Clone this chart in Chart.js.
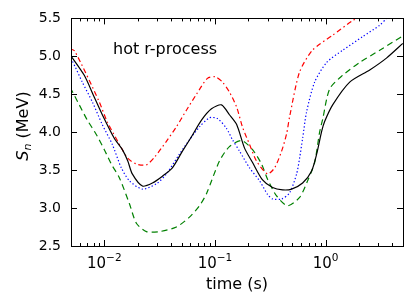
<!DOCTYPE html>
<html>
<head>
<meta charset="utf-8">
<script src="https://cdn.jsdelivr.net/npm/chart.js@4"></script>
<style>
  body { margin: 0; background: #fff; }
  canvas { display: block; }
</style>
</head>
<body>
<canvas id="chart" width="415" height="296"></canvas>
<script>
// time (s) and S_n (MeV)
const blackT = [0.00492, 0.00659, 0.00812, 0.00959, 0.0123, 0.01456, 0.0163, 0.0179, 0.0221, 0.0272, 0.0335, 0.0412, 0.0508, 0.0613, 0.0755, 0.093, 0.1145, 0.135, 0.157, 0.185, 0.2185, 0.269, 0.3315, 0.4083, 0.4925, 0.6194, 0.747, 0.829, 0.92, 0.979, 1.157, 1.649, 2.502, 3.565, 4.98]
const blackS = [5.02, 4.75, 4.46, 4.23, 3.92, 3.77, 3.62, 3.45, 3.29, 3.33, 3.42, 3.53, 3.75, 3.94, 4.16, 4.31, 4.36, 4.23, 4.10, 3.79, 3.60, 3.37, 3.27, 3.24, 3.25, 3.33, 3.49, 3.71, 4.01, 4.14, 4.36, 4.66, 4.82, 4.98, 5.17]

const redT = [0.0049, 0.0054, 0.009, 0.0106, 0.0137, 0.0162, 0.0195, 0.024, 0.0284, 0.0364, 0.0448, 0.0552, 0.068, 0.0855, 0.101, 0.117, 0.135, 0.157, 0.177, 0.205, 0.2375, 0.2987, 0.3456, 0.40, 0.444, 0.472, 0.58, 0.76, 1.16, 1.75, 2.1]
const redS = [5.10, 5.07, 4.40, 4.14, 3.84, 3.66, 3.58, 3.57, 3.67, 3.88, 4.07, 4.29, 4.50, 4.71, 4.73, 4.66, 4.53, 4.33, 4.07, 3.84, 3.62, 3.45, 3.53, 3.75, 3.98, 4.20, 4.79, 5.08, 5.28, 5.47, 5.53]

const blueT = [0.0049, 0.00513, 0.00632, 0.00779, 0.00959, 0.0118, 0.01425, 0.01684, 0.0221, 0.0296, 0.0364, 0.0477, 0.0588, 0.0724, 0.0892, 0.1054, 0.127, 0.144, 0.1667, 0.2052, 0.2527, 0.2987, 0.3315, 0.40, 0.4724, 0.5466, 0.5818, 0.6194, 0.6732, 0.795, 1.021, 1.425, 2.161, 3.082, 3.565, 4.98]
const blueS = [4.96, 4.94, 4.66, 4.40, 4.10, 3.84, 3.53, 3.36, 3.25, 3.32, 3.45, 3.71, 3.90, 4.07, 4.19, 4.18, 4.05, 3.90, 3.75, 3.53, 3.36, 3.18, 3.12, 3.12, 3.20, 3.45, 3.66, 3.92, 4.27, 4.66, 4.92, 5.08, 5.26, 5.41, 5.50, 5.65]

const greenT = [0.00492, 0.00594, 0.00702, 0.00846, 0.01, 0.01157, 0.01367, 0.01684, 0.01948, 0.024, 0.0315, 0.0448, 0.0588, 0.0724, 0.0838, 0.1098, 0.135, 0.1737, 0.2185, 0.2636, 0.2987, 0.3603, 0.453, 0.5818, 0.6873, 0.795, 0.882, 0.94, 1.087, 1.425, 2.031, 3.082, 4.98]
const greenS = [4.59, 4.36, 4.16, 3.97, 3.77, 3.58, 3.40, 3.06, 2.80, 2.69, 2.69, 2.75, 2.88, 3.03, 3.19, 3.62, 3.81, 3.89, 3.77, 3.58, 3.38, 3.16, 3.03, 3.14, 3.36, 3.60, 4.00, 4.17, 4.57, 4.75, 4.92, 5.08, 5.27]

const xMajor = [0.01, 0.1, 1]
const xExp   = ['−2', '−1', '0']
const yTicks = [2.5, 3.0, 3.5, 4.0, 4.5, 5.0, 5.5]
const noteText = 'hot r-process'

const FONT = '"DejaVu Sans", sans-serif'

function pts(ts, vs) {
    return ts.map((t, i) => ({ x: t, y: vs[i] }))
}

function line(ts, vs, color, dash) {
    return {
        data: pts(ts, vs),
        borderColor: color,
        borderWidth: 1.2,
        borderDash: dash,
        pointRadius: 0,
        tension: 0.25,
        fill: false
    }
}

// inward ticks, frame, x tick labels with exponents, y label and the note
const framePlugin = {
    id: 'frame',
    afterDraw(chart) {
        const ctx = chart.ctx
        const a = chart.chartArea
        const xs = chart.scales.x
        const ys = chart.scales.y
        ctx.save()
        ctx.strokeStyle = '#000'
        ctx.lineWidth = 1
        ctx.strokeRect(Math.round(a.left) + 0.5, Math.round(a.top) + 0.5, Math.round(a.right - a.left), Math.round(a.bottom - a.top))

        const tick = (x1, y1, x2, y2) => {
            ctx.beginPath()
            ctx.moveTo(x1, y1)
            ctx.lineTo(x2, y2)
            ctx.stroke()
        }
        for (const d of [0.001, 0.01, 0.1, 1]) {
            for (let m = 1; m <= 9; m++) {
                const v = m * d
                if (v < xs.min || v > xs.max) continue
                const px = Math.round(xs.getPixelForValue(v)) + 0.5
                const len = m === 1 ? 6 : 3
                tick(px, a.bottom, px, a.bottom - len)
                tick(px, a.top, px, a.top + len)
            }
        }
        yTicks.forEach(v => {
            const py = Math.round(ys.getPixelForValue(v)) + 0.5
            tick(a.left, py, a.left + 6, py)
            tick(a.right, py, a.right - 6, py)
        })

        // x tick labels 10^n
        ctx.fillStyle = '#000'
        ctx.textBaseline = 'alphabetic'
        const fBase = '15px ' + FONT
        const fExp = '10.5px ' + FONT
        xMajor.forEach((v, i) => {
            const px = xs.getPixelForValue(v)
            ctx.font = fBase; const wb = ctx.measureText('10').width
            ctx.font = fExp; const we = ctx.measureText(xExp[i]).width
            let x = px - (wb + we) / 2
            ctx.font = fBase; ctx.fillText('10', x, a.bottom + 22)
            ctx.font = fExp; ctx.fillText(xExp[i], x + wb, a.bottom + 15)
        })

        // y axis label: S_n (MeV)
        const fS = 'italic 16px ' + FONT
        const fN = 'italic 11px ' + FONT
        const fR = '16px ' + FONT
        ctx.font = fS; const wS = ctx.measureText('S').width
        ctx.font = fN; const wN = ctx.measureText('n').width
        ctx.font = fR; const wR = ctx.measureText(' (MeV)').width
        const total = wS + wN + wR
        ctx.save()
        ctx.translate(28, 126)
        ctx.rotate(-Math.PI / 2)
        let x = -total / 2
        ctx.font = fS; ctx.fillText('S', x, 0); x += wS
        ctx.font = fN; ctx.fillText('n', x, 3); x += wN
        ctx.font = fR; ctx.fillText(' (MeV)', x, 0)
        ctx.restore()

        ctx.font = '16px ' + FONT
        ctx.fillText(noteText, a.left + 42, a.top + 36)
        ctx.restore()
    }
}

new Chart(document.getElementById('chart'), {
    type: 'line',
    data: {
        datasets: [
            line(blackT, blackS, '#000000', []),
            line(redT, redS, '#ff0000', [5, 3, 1.5, 3]),
            line(blueT, blueS, '#0000ff', [1.3, 2.2]),
            line(greenT, greenS, '#008000', [6, 4])
        ]
    },
    options: {
        responsive: false,
        animation: false,
        layout: { padding: { left: 0, right: 12, top: 15, bottom: 0 } },
        plugins: { legend: { display: false }, tooltip: { enabled: false } },
        scales: {
            x: {
                type: 'logarithmic',
                min: 0.005,
                max: 5,
                grid: { display: false, drawTicks: false },
                border: { display: false },
                afterBuildTicks: s => { s.ticks = xMajor.map(v => ({ value: v })) },
                afterFit: s => { s.height = 50 },
                ticks: { display: false },
                title: {
                    display: true,
                    text: 'time (s)',
                    color: '#000',
                    font: { family: FONT, size: 16 },
                    padding: { top: 0, bottom: 2 }
                }
            },
            y: {
                min: 2.5,
                max: 5.5,
                grid: { display: false, drawTicks: false },
                border: { display: false },
                afterBuildTicks: s => { s.ticks = yTicks.map(v => ({ value: v })) },
                afterFit: s => { s.width = 71 },
                ticks: {
                    color: '#000',
                    font: { family: FONT, size: 14 },
                    padding: 10,
                    callback: v => v.toFixed(1)
                }
            }
        }
    },
    plugins: [framePlugin]
})
</script>
</body>
</html>
